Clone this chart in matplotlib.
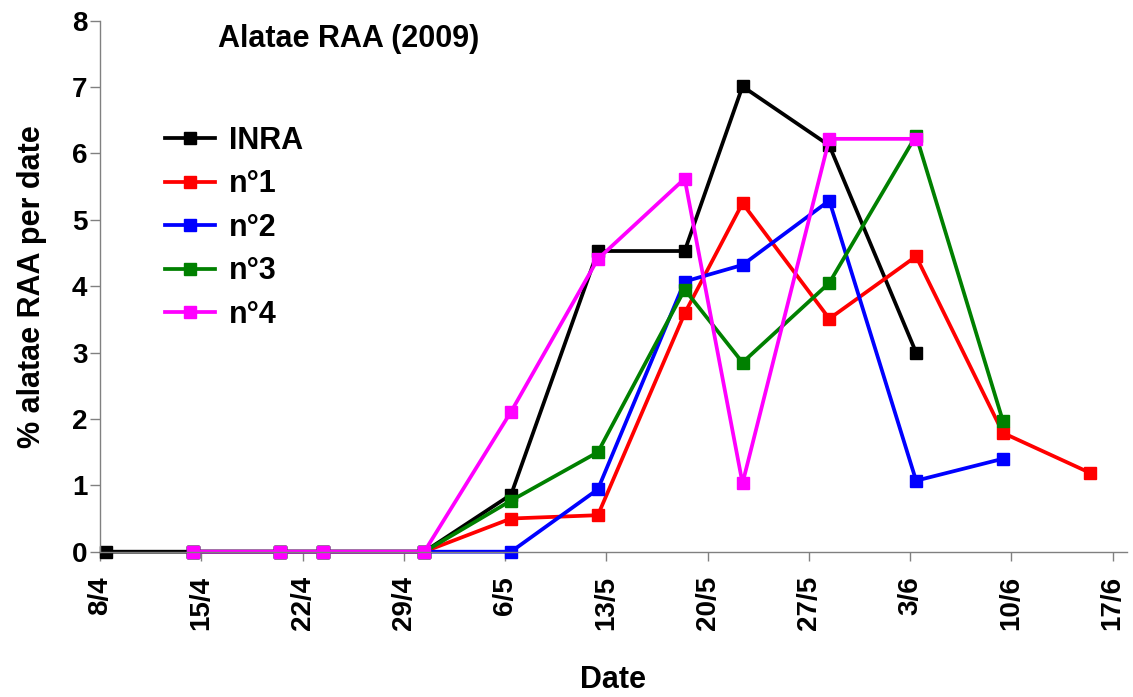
import matplotlib
matplotlib.use("Agg")
import matplotlib.pyplot as plt
import matplotlib.transforms as mtransforms
import numpy as np
import pandas as pd
import matplotlib.dates as mdates

plt.rcParams['font.family'] = ['Liberation Sans', 'DejaVu Sans']
plt.rcParams['font.weight'] = 'bold'

# ---- data ----
dates = ["8/4", "14/4", "20/4", "23/4", "30/4", "6/5", "12/5", "18/5",
         "22/5", "28/5", "3/6", "9/6", "15/6"]
inra = [0, 0, 0, 0, 0, 0.86, 4.53, 4.53, 7.01, 6.12, 3.00, None, None]
n1 = [None, 0, 0, 0, 0, 0.50, 0.55, 3.59, 5.25, 3.51, 4.45, 1.79, 1.19]
n2 = [None, 0, 0, 0, 0, 0.00, 0.94, 4.07, 4.32, 5.29, 1.07, 1.40, None]
n3 = [None, 0, 0, 0, 0, 0.77, 1.50, 3.95, 2.85, 4.05, 6.27, 1.97, None]
n4 = [None, 0, 0, 0, 0, 2.11, 4.41, 5.62, 1.03, 6.22, 6.22, None, None]
series_names = ["INRA", "n°1", "n°2", "n°3", "n°4"]
series_colors = ["#000000", "#FF0000", "#0000FF", "#008000", "#FF00FF"]
tick_labels = ["8/4", "15/4", "22/4", "29/4", "6/5", "13/5", "20/5", "27/5",
               "3/6", "10/6", "17/6"]
title = "Alatae RAA (2009)"
xlabel = "Date"
ylabel = "% alatae RAA per date"

x = pd.to_datetime([d + "/2009" for d in dates], format="%d/%m/%Y")
xn = mdates.date2num(x)

W, H = 1133, 697
fig = plt.figure(figsize=(W / 100, H / 100), dpi=100)
ax = fig.add_axes([100 / W, (H - 551.7) / H, 1027 / W, (551.7 - 20.7) / H])

for name, vals, col in zip(series_names, [inra, n1, n2, n3, n4], series_colors):
    v = np.array([np.nan if a is None else a for a in vals], dtype=float)
    ax.plot(xn, v, color=col, lw=2.7, marker='s', ms=9, mec=col, mfc=col,
            label=name, solid_joinstyle='miter', clip_on=False)

# x axis: ticks every 7 days starting at 8/4, axis offset slightly
offset = 0.42
t0 = xn[0] - offset
ax.set_xlim(t0, t0 + 71)
ticks = t0 + 7 * np.arange(len(tick_labels))
ax.set_xticks(ticks)
ax.set_xticklabels(tick_labels, rotation=90, fontsize=20, fontweight='bold')
shift = mtransforms.ScaledTranslation(4 / 100, 0, fig.dpi_scale_trans)
for lab in ax.get_xticklabels():
    lab.set_transform(lab.get_transform() + shift)
ax.set_ylim(0, 8)
ax.set_yticks(range(0, 9))
ax.set_yticklabels([str(i) for i in range(0, 9)], fontsize=20, fontweight='bold')

for s in ['top', 'right']:
    ax.spines[s].set_visible(False)
for s in ['left', 'bottom']:
    ax.spines[s].set_color('#808080')
    ax.spines[s].set_linewidth(1.0)
ax.tick_params(axis='y', direction='out', length=7, width=1, color='#808080', pad=2)
ax.tick_params(axis='x', direction='out', length=6.5, width=1, color='#808080', pad=11)

ax.set_xlabel(xlabel, fontsize=22, fontweight='bold')
ax.xaxis.set_label_coords(0.5, -0.214)
ax.set_ylabel(ylabel, fontsize=22, fontweight='bold')
ax.yaxis.set_label_coords(-0.052, 0.5)

fig.text(218 / W, (H - 46.7) / H, title, fontsize=22, fontweight='bold',
         ha='left', va='baseline')

leg = ax.legend(loc='upper left', bbox_to_anchor=(165 / W, (H - 126) / H),
                bbox_transform=fig.transFigure, frameon=False,
                prop={'size': 22, 'weight': 'bold'}, borderpad=0, borderaxespad=0,
                handlelength=1.63, handletextpad=0.46, labelspacing=0.44)

fig.savefig("out.png", dpi=100)
